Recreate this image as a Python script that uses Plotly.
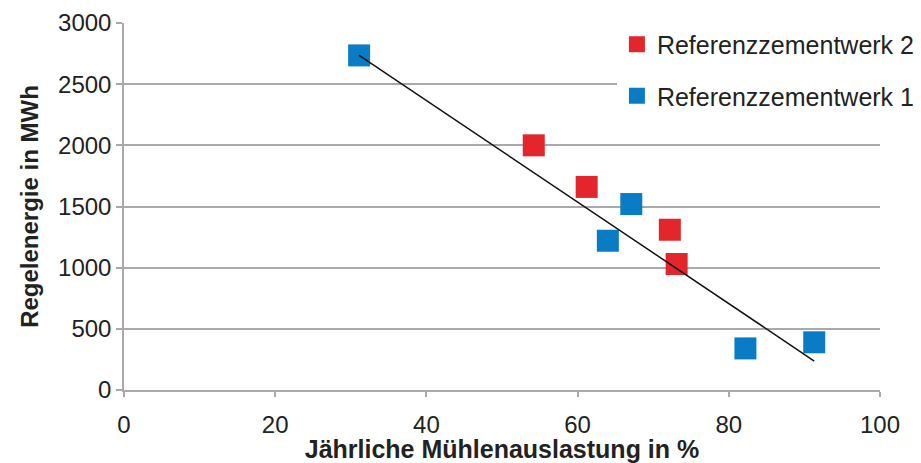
import plotly.graph_objects as go

# Referenzzementwerk 2 (red)
werk2_auslastung = [54.2, 61.2, 72.2, 73.1]
werk2_regelenergie = [2000, 1660, 1310, 1030]

# Referenzzementwerk 1 (blue)
werk1_auslastung = [31.1, 67.1, 64.0, 82.2, 91.3]
werk1_regelenergie = [2735, 1520, 1220, 340, 390]

# Trend line endpoints
trend_auslastung = [31.1, 91.3]
trend_regelenergie = [2736, 237]

RED = "#E2262B"
BLUE = "#0A7CC6"
GRID = "#A9A9AD"
FONT = "Liberation Sans, Arial, sans-serif"

fig = go.Figure()

fig.add_trace(go.Scatter(
    x=werk2_auslastung, y=werk2_regelenergie, mode="markers",
    name="Referenzzementwerk 2", legendgroup="w2",
    marker=dict(symbol="square", size=22, color=RED, line=dict(width=0)),
))
fig.add_trace(go.Scatter(
    x=werk1_auslastung, y=werk1_regelenergie, mode="markers",
    name="Referenzzementwerk 1", legendgroup="w1",
    marker=dict(symbol="square", size=22, color=BLUE, line=dict(width=0)),
))
# trend line drawn on top of the squares
fig.add_trace(go.Scatter(
    x=trend_auslastung, y=trend_regelenergie, mode="lines",
    line=dict(color="#111111", width=1.5), showlegend=False, hoverinfo="skip",
))

fig.update_layout(
    width=921, height=463,
    margin=dict(l=124, r=41, t=23, b=73, autoexpand=False),
    paper_bgcolor="white", plot_bgcolor="white",
    font=dict(family=FONT, size=24, color="#222222"),
    legend=dict(
        x=0.652, y=1.004, xanchor="left", yanchor="top",
        bgcolor="white", borderwidth=0,
        font=dict(family=FONT, size=25, color="#222222"),
        traceorder="grouped", tracegroupgap=16,
        itemsizing="trace",
    ),
)

fig.update_xaxes(
    range=[0, 100], dtick=20, tick0=0,
    showgrid=False, zeroline=False,
    showline=True, linecolor=GRID, linewidth=1.5,
    ticks="outside", ticklen=5, tickcolor=GRID, tickwidth=1.5,
    ticklabelstandoff=7, automargin=False,
    tickfont=dict(family=FONT, size=24, color="#222222"),
    title=dict(text="<b>Jährliche Mühlenauslastung in %</b>",
               font=dict(family=FONT, size=25, color="#222222"), standoff=16),
)
fig.update_yaxes(
    range=[0, 3000], dtick=500, tick0=0,
    showgrid=True, gridcolor=GRID, gridwidth=1.5,
    zeroline=False, automargin=False,
    showline=True, linecolor=GRID, linewidth=1.5,
    ticks="outside", ticklen=6, tickcolor=GRID, tickwidth=1.5,
    tickfont=dict(family=FONT, size=24, color="#222222"),
    title=dict(text="<b>Regelenergie in MWh</b>",
               font=dict(family=FONT, size=24, color="#222222"), standoff=13),
)

fig.write_html("out.html")
